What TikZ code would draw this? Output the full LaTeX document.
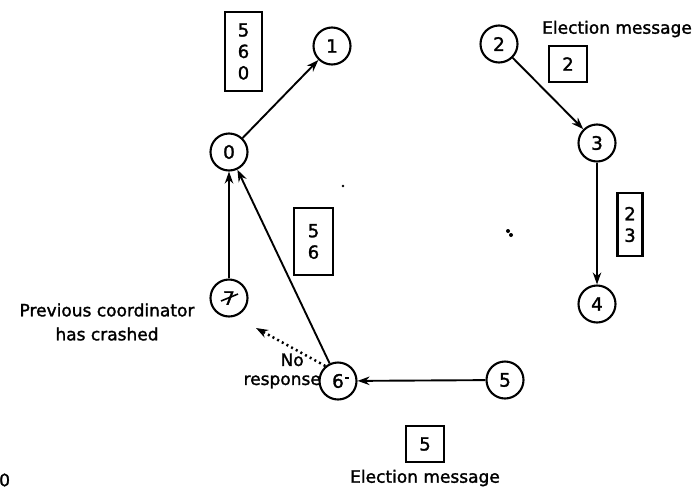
\documentclass[tikz,border=0pt]{standalone}
\usepackage{fontspec}
\setmainfont{DejaVu Sans}
\usetikzlibrary{arrows.meta}
\newfontfamily\labelfont[FakeBold=1.6]{DejaVu Sans}
\newfontfamily\digitfont[FakeBold=1.6]{DejaVu Sans}
\tikzset{
  proc/.style={circle, draw, line width=2.1pt, minimum size=37pt, inner sep=0pt, font=\fontsize{18.5}{20}\digitfont},
  msgbox/.style={rectangle, draw, line width=2.1pt, inner sep=0pt, align=center, font=\fontsize{18}{21.5}\digitfont},
  caption/.style={inner sep=0pt, font=\fontsize{17}{24}\labelfont, align=center},
  msgarrow/.style={line width=1.9pt, -{Stealth[length=12pt,width=8.5pt]}},
  probe/.style={line width=2.5pt, dash pattern=on 2pt off 3.3pt, -{Stealth[length=12pt,width=8.5pt]}},
}
\begin{document}
\begin{tikzpicture}[x=1pt, y=-1pt]
  \useasboundingbox (0,0) rectangle (695,490);

  % processes on the ring
  \node[proc] (n0) at (229,152) {0};
  \node[proc] (n1) at (332,46) {1};
  \node[proc] (n2) at (499,44) {2};
  \node[proc] (n3) at (597,143) {3};
  \node[proc] (n4) at (597,304) {4};
  \node[proc] (n7) at (229,298) {7};
  \draw[line width=1.6pt] (221,301) -- (238,294);
  \node[proc] (n6) at (338,381) {6};
  \node[proc] (n5) at (505,380) {5};

  % election messages travelling round the ring
  \node[msgbox, minimum width=37pt, minimum height=79pt] (m560) at (243.5,51.5) {5\\6\\0};
  \node[msgbox, minimum width=38pt, minimum height=36pt] (m2) at (568,64) {2};
  \node[msgbox, minimum width=25pt, minimum height=63pt] (m23) at (630,224.5) {2\\3};
  \node[msgbox, minimum width=39pt, minimum height=67pt] (m56) at (313.5,241.5) {5\\6};
  \node[msgbox, minimum width=38pt, minimum height=36pt] (m5) at (425,444) {5};

  % captions
  \node[caption] (top) at (617,29) {Election message};
  \node[caption] (bottom) at (425,478) {Election message};
  \node[caption] (crash) at (107,322) {Previous coordinator\\has crashed};
  \node[caption, anchor=east, align=left, font=\fontsize{17}{19}\labelfont] (noresp) at (321,371) {\hspace*{37pt}No\\response};
  \node[caption, anchor=west] (edge) at (-1,480) {0};

  % connectors
  \draw[msgarrow] (n0) -- (n1);
  \draw[msgarrow] (n2) -- (n3);
  \draw[msgarrow] (n3) -- (n4);
  \draw[msgarrow] (n5) -- (n6);
  \draw[msgarrow] (n6) -- (n0);
  \draw[msgarrow] (n7) -- (n0);
  \coordinate (probeEnd) at (256,328);
  \draw[probe] (n6.130) -- (probeEnd);

  % specks
  \fill (343,186) circle (1.3pt);
  \fill (508,231) circle (2pt);
  \fill (511,235) circle (2pt);
  \fill (345,377) rectangle (349,379);
\end{tikzpicture}
\end{document}
